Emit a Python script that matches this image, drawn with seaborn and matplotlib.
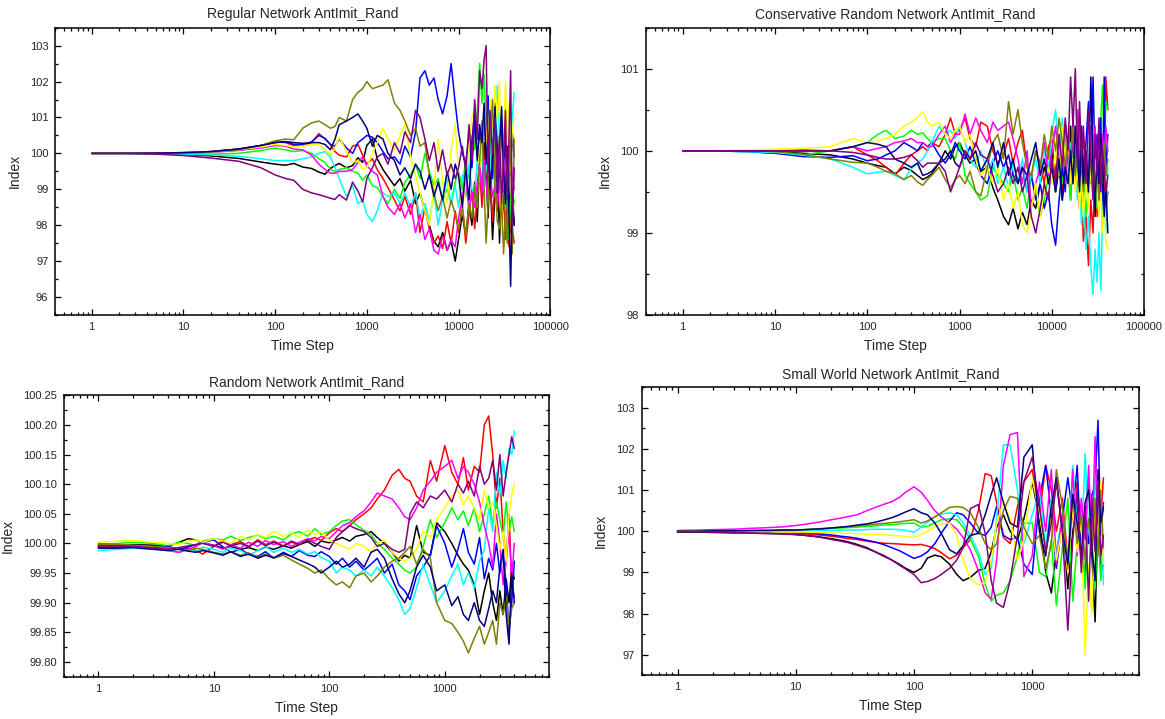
import pandas as pd
import matplotlib
matplotlib.use("Agg")
import matplotlib.pyplot as plt
from matplotlib.ticker import LogLocator, NullFormatter, MultipleLocator
import seaborn as sns

# Time steps at which the index of each run is recorded
STEPS_LONG = [1, 2, 5, 10, 20, 40, 70, 100, 130, 160,
              200, 250, 300, 350, 400, 450, 500, 600, 700, 800,
              900, 1000, 1150, 1300, 1500, 1700, 2000, 2300, 2600, 3000,
              3400, 3800, 4300, 4800, 5400, 6000, 6700, 7500, 8300, 9200,
              10000, 11000, 12000, 13000, 14000, 15000, 16000, 17000, 18000, 19000,
              20000, 21000, 22000, 23500, 25000, 26500, 28000, 29500, 31000, 32500,
              34000, 35500, 37000, 38500, 40500]

STEPS_SHORT = [1, 1.5, 2, 3, 4, 5, 6, 7, 8, 10,
               12, 14, 17, 20, 24, 28, 33, 40, 47, 55,
               65, 75, 85, 100, 115, 130, 150, 170, 200, 230,
               260, 300, 350, 400, 450, 500, 570, 650, 750, 850,
               1000, 1150, 1300, 1450, 1600, 1800, 2000, 2200, 2400, 2600,
               2800, 3000, 3200, 3400, 3600, 3800, 4000]

RUN_NAMES = ["black", "red", "green", "blue", "cyan",
             "magenta", "yellow", "olive", "navy", "purple"]
RUN_COLORS = ["#000000", "#FF0000", "#00FF00", "#0000FF", "#00FFFF",
              "#FF00FF", "#FFFF00", "#808000", "#000080", "#800080"]

# ---- Regular network ----
REG_BLACK = [100.00, 100.00, 99.99, 99.97, 99.93, 99.86, 99.76, 99.70, 99.67, 99.72,
             99.62, 99.58, 99.48, 99.42, 99.58, 99.66, 99.72, 99.60, 99.66, 99.88,
             99.75, 100.22, 100.40, 99.85, 99.55, 99.35, 99.10, 99.30, 98.95, 99.25,
             98.60, 98.90, 98.40, 98.00, 97.55, 97.40, 97.80, 97.30, 97.55, 97.00,
             97.60, 98.30, 97.70, 98.60, 98.00, 99.20, 98.10, 99.80, 98.70, 100.30,
             99.40, 98.20, 99.60, 97.60, 98.90, 100.20, 97.50, 99.30, 98.50, 100.80,
             98.30, 99.50, 97.80, 99.00, 98.00]
REG_RED = [100.00, 100.00, 100.01, 100.02, 100.05, 100.12, 100.22, 100.32, 100.30, 100.22,
           100.20, 100.30, 100.55, 100.40, 100.25, 100.05, 99.95, 99.90, 100.20, 100.25,
           99.95, 99.70, 99.85, 99.55, 99.30, 99.05, 98.70, 98.40, 98.80, 98.30,
           98.90, 97.80, 98.50, 97.90, 97.50, 97.70, 97.35, 98.10, 97.50, 98.40,
           97.80, 98.60, 97.50, 98.30, 99.00, 97.90, 98.80, 99.70, 98.50, 99.30,
           100.60, 98.90, 99.50, 98.10, 99.20, 98.40, 99.60, 98.00, 98.90, 97.60,
           98.50, 97.40, 98.20, 97.90, 97.50]
REG_GREEN = [100.00, 100.00, 100.00, 99.99, 99.98, 100.00, 100.08, 100.15, 100.10, 100.05,
             100.08, 100.00, 99.85, 99.75, 99.55, 99.50, 99.55, 99.60, 99.50, 99.45,
             99.25, 99.40, 99.10, 99.05, 98.80, 98.60, 99.00, 98.75, 99.20, 99.40,
             99.70, 99.30, 100.00, 99.50, 99.10, 99.30, 98.70, 99.00, 98.60, 99.20,
             99.50, 99.00, 99.90, 99.30, 100.50, 100.10, 101.20, 102.50, 101.40, 102.20,
             100.80, 101.60, 99.60, 100.40, 98.80, 99.90, 100.50, 99.20, 100.10, 98.40,
             99.60, 97.60, 98.80, 98.30, 98.70]
REG_BLUE = [100.00, 100.00, 100.01, 100.02, 100.05, 100.12, 100.22, 100.30, 100.32, 100.25,
            100.25, 100.32, 100.50, 100.42, 100.25, 100.20, 100.40, 100.15, 100.00, 100.30,
            100.40, 100.50, 100.45, 100.30, 100.05, 99.85, 99.90, 99.70, 100.20, 99.90,
            100.60, 102.10, 102.30, 101.90, 102.10, 101.50, 101.10, 101.60, 102.50, 101.40,
            100.60, 100.00, 99.70, 100.50, 99.60, 100.90, 99.90, 100.70, 99.80, 101.20,
            100.00, 101.60, 100.50, 99.30, 101.40, 100.20, 99.00, 100.80, 99.50, 101.00,
            99.80, 100.30, 99.40, 100.60, 99.90]
REG_CYAN = [100.00, 100.00, 99.99, 99.98, 99.96, 99.92, 99.85, 99.80, 99.80, 99.80,
            99.85, 99.90, 100.00, 100.05, 99.90, 99.60, 99.30, 98.80, 99.10, 98.60,
            98.70, 98.30, 98.10, 98.40, 98.90, 98.80, 98.90, 98.60, 98.90, 98.50,
            98.90, 98.20, 98.60, 98.10, 98.90, 98.00, 98.70, 99.30, 98.60, 99.10,
            98.50, 99.40, 98.80, 99.70, 99.00, 98.90, 99.80, 99.20, 100.30, 99.00,
            99.60, 100.60, 99.40, 101.00, 100.20, 101.90, 100.50, 98.30, 99.80, 99.20,
            100.50, 99.00, 100.30, 101.00, 101.70]
REG_MAGENTA = [100.00, 100.00, 100.00, 100.01, 100.03, 100.08, 100.15, 100.22, 100.20, 100.12,
               100.10, 99.95, 99.70, 99.55, 99.45, 99.45, 99.50, 99.50, 99.55, 99.75,
               99.90, 99.65, 99.50, 99.40, 98.80, 98.50, 98.30, 98.60, 98.20, 98.60,
               97.80, 98.30, 97.60, 97.90, 97.30, 97.20, 97.70, 97.30, 97.60, 97.40,
               98.20, 98.80, 99.30, 98.40, 98.90, 98.50, 99.20, 99.70, 98.90, 99.80,
               99.20, 98.60, 99.50, 98.80, 99.10, 98.50, 99.30, 98.60, 99.90, 99.10,
               99.80, 98.90, 100.10, 99.30, 99.00]
REG_YELLOW = [100.00, 100.00, 100.01, 100.02, 100.04, 100.10, 100.18, 100.25, 100.22, 100.18,
              100.20, 100.25, 100.25, 100.10, 99.95, 100.15, 100.45, 100.05, 99.75, 99.80,
              99.55, 99.60, 100.00, 100.30, 100.70, 100.40, 100.10, 100.50, 100.80, 99.90,
              99.40, 98.90, 98.40, 98.00, 99.00, 100.40, 99.20, 98.60, 100.10, 100.80,
              99.50, 98.30, 99.40, 100.20, 101.00, 101.20, 100.40, 99.60, 100.00, 101.30,
              100.60, 99.80, 101.50, 100.70, 101.90, 100.90, 102.00, 97.80, 100.40, 102.00,
              99.60, 101.40, 99.50, 100.60, 101.00]
REG_OLIVE = [100.00, 100.00, 100.00, 100.01, 100.04, 100.10, 100.22, 100.35, 100.40, 100.38,
             100.70, 100.85, 100.90, 100.80, 100.70, 100.75, 101.00, 100.90, 101.50, 101.70,
             101.80, 102.00, 101.80, 101.85, 101.90, 102.05, 101.40, 101.20, 100.90, 100.50,
             100.70, 100.20, 100.30, 99.40, 98.90, 98.40, 98.80, 98.20, 98.70, 98.30,
             97.90, 98.50, 97.70, 98.60, 98.20, 99.10, 98.50, 99.80, 100.90, 99.00,
             97.50, 98.60, 100.30, 101.50, 99.20, 98.10, 97.90, 98.60, 97.20, 98.40,
             97.50, 99.50, 100.40, 97.20, 100.40]
REG_NAVY = [100.00, 100.00, 100.01, 100.02, 100.05, 100.12, 100.22, 100.30, 100.33, 100.30,
            100.28, 100.30, 100.30, 100.25, 100.10, 100.40, 100.80, 100.90, 101.00, 101.10,
            100.90, 100.70, 100.20, 100.50, 100.40, 100.00, 99.80, 99.40, 99.60, 99.30,
            99.70, 99.50, 99.00, 99.40, 98.80, 99.20, 98.70, 99.50, 99.00, 99.70,
            99.40, 98.50, 99.60, 98.70, 100.30, 101.20, 99.80, 100.80, 100.30, 101.40,
            99.70, 100.50, 99.00, 99.80, 101.30, 98.90, 100.20, 101.30, 99.50, 98.60,
            100.20, 98.30, 96.30, 98.60, 98.00]
REG_PURPLE = [100.00, 100.00, 99.98, 99.94, 99.87, 99.78, 99.60, 99.40, 99.30, 99.25,
              99.00, 98.90, 98.85, 98.80, 98.75, 98.72, 98.85, 98.70, 99.20, 98.95,
              98.65, 99.30, 99.60, 99.90, 100.00, 99.70, 100.30, 100.00, 100.60, 100.30,
              101.20, 101.00, 100.40, 99.80, 100.30, 99.50, 100.10, 99.40, 99.70, 99.30,
              99.60, 100.20, 99.50, 100.80, 99.80, 101.50, 100.40, 102.30, 101.80, 102.60,
              103.00, 99.50, 101.20, 100.00, 101.00, 99.00, 100.50, 98.60, 99.90, 101.20,
              98.70, 100.40, 102.30, 98.00, 99.60]

# ---- Conservative random network ----
CON_BLACK = [100.00, 100.00, 100.00, 99.99, 99.97, 99.95, 99.90, 99.85, 99.82, 99.80,
             99.72, 99.80, 99.76, 99.70, 99.65, 99.68, 99.72, 99.85, 100.00, 99.90,
             100.05, 100.10, 99.95, 99.85, 99.90, 99.75, 99.80, 99.55, 99.40, 99.20,
             99.10, 99.30, 99.05, 99.25, 99.10, 99.40, 99.30, 99.60, 99.80, 99.60,
             100.00, 99.50, 99.80, 99.40, 99.90, 99.70, 100.30, 99.60, 100.10, 99.50,
             100.20, 99.70, 99.30, 99.90, 99.50, 100.10, 99.60, 99.20, 99.90, 99.40,
             99.70, 99.10, 99.60, 99.30, 99.50]
CON_RED = [100.00, 100.00, 100.00, 100.00, 100.01, 100.00, 100.05, 99.95, 99.88, 99.80,
           99.70, 99.85, 99.95, 100.00, 100.05, 100.00, 100.10, 100.05, 100.20, 100.40,
           100.20, 100.25, 100.40, 100.15, 100.05, 100.35, 100.30, 100.00, 99.85, 99.95,
           100.15, 99.85, 100.10, 100.25, 99.80, 99.65, 100.00, 99.85, 99.60, 100.05,
           100.15, 99.70, 100.20, 99.50, 100.30, 99.80, 99.40, 100.10, 99.70, 100.20,
           99.30, 99.60, 98.90, 99.20, 98.60, 99.40, 99.00, 99.80, 99.20, 100.30,
           99.50, 100.10, 99.40, 100.90, 100.50]
CON_GREEN = [100.00, 100.00, 99.99, 99.97, 99.95, 100.00, 100.05, 100.10, 100.20, 100.25,
             100.15, 100.18, 100.25, 100.20, 100.22, 100.15, 100.10, 100.15, 100.15, 100.00,
             99.90, 100.10, 99.70, 99.60, 99.50, 99.40, 99.45, 99.80, 99.70, 99.60,
             99.50, 99.75, 99.40, 99.55, 99.30, 99.70, 99.50, 99.20, 99.40, 99.70,
             99.90, 99.50, 100.10, 99.60, 100.20, 99.80, 99.40, 100.00, 99.60, 100.30,
             99.70, 99.40, 99.90, 99.20, 99.60, 100.10, 99.50, 100.20, 99.30, 99.80,
             100.40, 100.80, 99.90, 100.60, 100.50]
CON_BLUE = [100.00, 100.00, 99.99, 99.97, 99.93, 99.92, 99.94, 99.88, 99.90, 99.95,
            100.00, 100.10, 100.05, 100.00, 100.10, 100.05, 100.10, 99.95, 99.85, 99.95,
            100.10, 100.00, 99.90, 100.05, 99.85, 99.70, 99.60, 99.85, 100.00, 99.80,
            99.95, 99.70, 99.60, 99.80, 99.50, 99.70, 99.40, 99.60, 99.30, 99.50,
            99.10, 98.85, 99.40, 99.80, 99.50, 100.10, 99.70, 100.40, 99.90, 100.20,
            99.70, 100.30, 99.80, 100.10, 100.60, 99.60, 100.90, 99.80, 100.20, 99.50,
            100.40, 99.30, 100.90, 99.70, 100.20]
CON_CYAN = [100.00, 100.00, 99.99, 99.98, 99.95, 99.90, 99.80, 99.72, 99.74, 99.75,
            99.70, 99.65, 99.78, 99.85, 99.90, 100.00, 100.10, 100.30, 100.20, 100.25,
            100.15, 100.30, 100.10, 99.90, 99.80, 100.00, 99.75, 99.90, 99.60, 99.80,
            99.55, 99.85, 99.60, 99.90, 99.50, 99.70, 99.90, 99.60, 100.00, 99.80,
            100.20, 100.50, 99.90, 100.40, 100.00, 99.70, 100.10, 99.60, 99.90, 99.40,
            99.70, 99.10, 99.50, 98.80, 99.20, 98.60, 98.25, 98.80, 98.40, 99.00,
            98.30, 99.20, 99.50, 99.00, 99.80]
CON_MAGENTA = [100.00, 100.00, 100.00, 100.00, 100.00, 100.00, 100.05, 100.00, 100.03, 100.05,
               100.10, 100.12, 100.15, 100.10, 100.10, 100.05, 100.05, 100.20, 100.30, 100.10,
               100.20, 100.20, 100.45, 100.20, 100.40, 100.25, 100.10, 100.35, 100.25, 100.30,
               100.35, 100.15, 99.90, 99.60, 100.00, 99.30, 99.60, 99.80, 100.10, 99.70,
               100.00, 100.30, 99.80, 100.20, 99.60, 100.10, 99.70, 100.40, 99.90, 100.50,
               100.10, 99.60, 100.20, 99.80, 99.60, 100.30, 99.90, 100.30, 99.70, 100.10,
               99.60, 100.20, 99.80, 100.30, 100.00]
CON_YELLOW = [100.00, 100.00, 100.01, 100.02, 100.03, 100.05, 100.15, 100.10, 100.12, 100.15,
              100.20, 100.30, 100.35, 100.40, 100.48, 100.35, 100.30, 100.35, 100.20, 100.15,
              100.25, 100.30, 100.10, 100.20, 99.90, 99.70, 99.80, 99.60, 99.80, 99.40,
              99.60, 99.30, 99.50, 99.10, 99.00, 99.30, 99.60, 99.20, 99.50, 99.80,
              99.60, 100.00, 99.70, 100.30, 99.90, 100.30, 99.60, 99.90, 99.50, 99.80,
              99.30, 99.70, 99.20, 99.60, 99.30, 99.80, 99.40, 99.90, 99.50, 99.20,
              99.60, 99.00, 99.40, 98.90, 98.80]
CON_OLIVE = [100.00, 100.00, 100.00, 99.99, 99.96, 99.90, 99.86, 99.85, 99.80, 99.75,
             99.72, 99.65, 99.70, 99.62, 99.58, 99.65, 99.70, 99.80, 99.65, 99.55,
             99.65, 99.70, 99.60, 99.75, 99.50, 99.45, 99.80, 100.10, 100.20, 99.90,
             100.60, 100.20, 100.50, 100.10, 99.80, 99.70, 100.00, 99.80, 100.20, 99.90,
             100.30, 100.00, 100.40, 100.10, 99.80, 100.20, 99.90, 100.30, 99.70, 100.10,
             100.40, 99.80, 99.50, 100.00, 99.60, 99.90, 100.20, 99.50, 99.80, 99.40,
             99.90, 99.60, 100.10, 99.70, 99.90]
CON_NAVY = [100.00, 100.00, 100.00, 100.00, 100.00, 100.00, 100.05, 100.10, 100.08, 100.05,
            99.90, 99.85, 99.80, 99.85, 99.70, 99.72, 99.75, 99.85, 99.90, 100.00,
            99.85, 99.80, 100.00, 99.90, 100.00, 99.75, 99.90, 100.10, 99.80, 100.10,
            99.70, 99.90, 99.60, 99.80, 99.70, 99.90, 100.10, 99.70, 99.90, 99.60,
            99.80, 99.50, 99.90, 99.40, 99.80, 99.60, 100.00, 99.60, 100.30, 99.90,
            99.50, 100.20, 99.60, 100.00, 99.50, 100.90, 99.80, 99.30, 100.00, 99.60,
            100.20, 99.90, 99.20, 99.60, 99.00]
CON_PURPLE = [100.00, 100.00, 100.00, 100.00, 100.00, 100.00, 99.98, 99.95, 99.92, 99.90,
              99.90, 99.92, 99.95, 99.88, 99.80, 99.85, 99.85, 99.85, 99.75, 99.50,
              99.65, 99.80, 100.00, 99.90, 100.10, 99.95, 99.90, 99.70, 99.50, 99.60,
              99.80, 99.60, 99.80, 99.50, 99.70, 99.20, 99.00, 99.30, 99.60, 99.40,
              99.90, 99.60, 100.20, 99.80, 100.40, 100.00, 100.90, 100.30, 101.00, 99.80,
              100.60, 99.90, 100.30, 99.60, 100.50, 99.90, 99.40, 100.20, 99.70, 100.40,
              99.50, 100.00, 99.80, 99.50, 99.70]

# ---- Random network ----
RND_BLACK = [99.995, 99.996, 99.998, 99.997, 99.995, 100.002, 100.008, 100.006, 100.001, 99.997,
             99.992, 99.995, 99.990, 99.993, 99.988, 99.994, 99.990, 99.996, 99.992, 99.998,
             100.003, 99.995, 100.004, 100.001, 100.006, 100.010, 100.004, 100.012, 100.015, 100.020,
             100.010, 100.000, 99.985, 99.970, 99.980, 99.975, 100.030, 99.985, 99.980, 100.035,
             100.020, 100.000, 99.980, 99.965, 99.955, 99.930, 99.880, 99.920, 99.950, 99.900,
             99.870, 99.920, 99.880, 99.940, 99.900, 99.960, 99.940]
RND_RED = [99.995, 99.995, 99.994, 99.993, 99.992, 99.990, 99.992, 99.988, 99.982, 99.995,
           100.005, 99.998, 100.003, 99.995, 100.006, 99.998, 100.004, 99.996, 100.002, 99.998,
           100.006, 100.010, 100.005, 100.018, 100.025, 100.020, 100.030, 100.040, 100.050, 100.060,
           100.075, 100.090, 100.115, 100.125, 100.110, 100.105, 100.080, 100.070, 100.140, 100.105,
           100.165, 100.120, 100.100, 100.145, 100.090, 100.130, 100.120, 100.200, 100.215, 100.150,
           100.060, 100.110, 100.020, 99.970, 100.050, 99.930, 99.910]
RND_GREEN = [99.998, 100.000, 100.002, 100.000, 99.996, 100.002, 100.000, 99.996, 100.004, 100.008,
             100.006, 100.012, 100.005, 100.010, 100.014, 100.008, 100.012, 100.006, 100.016, 100.020,
             100.012, 100.025, 100.015, 100.020, 100.030, 100.038, 100.040, 100.032, 100.022, 100.015,
             100.000, 99.990, 99.975, 99.965, 99.955, 99.950, 99.960, 99.995, 100.040, 100.010,
             100.035, 100.060, 100.040, 100.055, 100.030, 100.060, 100.020, 100.050, 100.080, 100.030,
             100.070, 100.040, 100.010, 100.070, 100.020, 100.045, 100.020]
RND_BLUE = [99.993, 99.993, 99.994, 99.992, 99.995, 99.990, 99.994, 99.998, 100.002, 100.006,
            99.994, 99.985, 99.990, 99.982, 99.978, 99.986, 99.975, 99.985, 99.978, 99.988,
            99.980, 99.978, 99.986, 99.978, 99.965, 99.975, 99.960, 99.970, 99.955, 99.965,
            99.975, 99.950, 99.965, 99.930, 99.920, 99.905, 99.945, 99.960, 99.980, 100.030,
            100.000, 99.960, 99.990, 100.025, 99.985, 99.965, 100.010, 99.940, 99.975, 99.955,
            100.000, 99.950, 99.985, 99.930, 99.850, 99.900, 99.970]
RND_CYAN = [99.988, 99.990, 99.992, 99.990, 99.988, 99.985, 99.990, 99.986, 99.994, 99.990,
            99.985, 99.992, 99.988, 99.980, 99.988, 99.995, 99.985, 99.992, 99.985, 99.990,
            99.982, 99.986, 99.976, 99.970, 99.950, 99.960, 99.955, 99.945, 99.955, 99.945,
            99.960, 99.945, 99.925, 99.905, 99.880, 99.890, 99.925, 99.965, 99.930, 99.900,
            99.920, 99.945, 99.965, 99.930, 99.950, 99.925, 99.970, 99.990, 100.060, 100.020,
            100.120, 100.080, 100.140, 100.110, 100.160, 100.150, 100.190]
RND_MAGENTA = [100.000, 99.998, 99.996, 99.992, 99.988, 99.985, 99.990, 99.995, 100.002, 99.996,
               99.990, 99.998, 99.992, 100.002, 99.995, 100.005, 99.998, 100.003, 99.995, 100.002,
               100.008, 100.004, 100.012, 100.008, 100.020, 100.030, 100.035, 100.045, 100.055, 100.070,
               100.085, 100.080, 100.075, 100.060, 100.045, 100.040, 100.060, 100.090, 100.105, 100.120,
               100.130, 100.140, 100.110, 100.130, 100.120, 100.100, 100.070, 100.030, 100.000, 99.960,
               100.050, 100.000, 99.930, 99.970, 100.020, 99.940, 100.000]
RND_YELLOW = [100.002, 100.004, 100.005, 100.002, 100.000, 99.998, 100.004, 100.006, 100.002, 100.008,
              100.004, 100.000, 100.012, 100.006, 100.015, 100.010, 100.020, 100.012, 100.018, 100.010,
              100.022, 100.015, 100.020, 100.005, 100.000, 99.995, 99.990, 100.000, 99.995, 99.985,
              100.000, 100.005, 99.985, 99.975, 99.970, 99.975, 99.990, 100.020, 100.010, 100.040,
              100.060, 100.080, 100.090, 100.065, 100.080, 100.060, 100.040, 100.090, 100.060, 100.070,
              100.030, 99.990, 100.020, 99.970, 100.050, 100.080, 100.100]
RND_OLIVE = [99.998, 99.998, 99.997, 99.995, 99.993, 99.990, 99.988, 99.992, 99.990, 99.985,
             99.982, 99.986, 99.980, 99.984, 99.976, 99.982, 99.975, 99.980, 99.972, 99.965,
             99.958, 99.950, 99.955, 99.940, 99.930, 99.935, 99.925, 99.945, 99.950, 99.935,
             99.945, 99.960, 99.970, 99.975, 99.985, 99.995, 99.965, 99.990, 99.975, 99.900,
             99.870, 99.865, 99.850, 99.835, 99.815, 99.840, 99.860, 99.830, 99.850, 99.870,
             99.830, 99.900, 99.880, 99.910, 99.860, 99.890, 99.900]
RND_NAVY = [99.992, 99.992, 99.993, 99.990, 99.988, 99.990, 99.987, 99.985, 99.988, 99.984,
            99.980, 99.986, 99.978, 99.982, 99.975, 99.980, 99.976, 99.983, 99.978, 99.972,
            99.966, 99.960, 99.950, 99.960, 99.970, 99.960, 99.965, 99.975, 99.960, 99.985,
            99.990, 99.975, 99.940, 99.915, 99.900, 99.920, 99.960, 99.980, 99.960, 99.920,
            99.930, 99.895, 99.910, 99.880, 99.870, 99.900, 99.870, 99.860, 99.890, 99.920,
            99.900, 99.960, 99.990, 99.880, 99.830, 99.950, 99.900]
RND_PURPLE = [99.996, 99.996, 99.995, 99.992, 99.990, 99.993, 99.996, 99.998, 100.000, 99.995,
              100.002, 99.996, 100.000, 99.994, 100.004, 99.996, 100.002, 99.995, 100.004, 99.998,
              100.006, 100.000, 99.995, 99.990, 100.010, 100.020, 100.030, 100.025, 100.020, 100.010,
              99.995, 100.000, 99.990, 99.985, 99.990, 100.050, 100.070, 100.060, 100.080, 100.075,
              100.090, 100.070, 100.100, 100.085, 100.105, 100.080, 100.130, 100.100, 100.110, 100.140,
              100.090, 100.150, 100.080, 100.120, 100.150, 100.180, 100.160]

# ---- Small world network ----
SW_BLACK = [99.98, 99.98, 99.97, 99.96, 99.96, 99.95, 99.95, 99.94, 99.94, 99.92,
            99.90, 99.88, 99.85, 99.82, 99.78, 99.74, 99.68, 99.60, 99.50, 99.40,
            99.30, 99.20, 99.10, 99.00, 99.10, 99.35, 99.42, 99.38, 99.20, 98.95,
            98.80, 98.88, 99.05, 99.10, 99.50, 100.10, 100.40, 100.00, 99.80, 100.30,
            101.20, 100.30, 99.00, 98.50, 99.50, 100.30, 98.60, 100.00, 100.60, 99.50,
            98.90, 100.30, 99.40, 97.80, 100.40, 99.00, 99.20]
SW_RED = [100.00, 100.00, 99.99, 99.99, 99.98, 99.98, 99.97, 99.97, 99.96, 99.95,
          99.94, 99.92, 99.90, 99.88, 99.85, 99.82, 99.80, 99.76, 99.73, 99.71,
          99.70, 99.69, 99.68, 99.67, 99.68, 99.64, 99.58, 99.48, 99.33, 99.42,
          99.60, 99.80, 100.50, 101.40, 101.35, 100.70, 99.85, 99.70, 100.60, 101.20,
          101.50, 100.40, 101.60, 101.00, 100.00, 100.80, 99.30, 100.50, 101.20, 99.60,
          100.20, 101.30, 99.80, 100.70, 99.60, 100.30, 101.30]
SW_GREEN = [100.00, 100.00, 100.00, 100.01, 100.01, 100.02, 100.02, 100.02, 100.03, 100.03,
            100.04, 100.05, 100.06, 100.07, 100.08, 100.09, 100.10, 100.12, 100.13, 100.15,
            100.16, 100.18, 100.19, 100.20, 100.10, 100.12, 100.20, 100.28, 100.30, 100.28,
            100.10, 99.80, 99.40, 98.70, 98.30, 98.45, 98.50, 98.80, 99.40, 100.20,
            100.20, 99.00, 98.90, 99.80, 98.20, 99.60, 100.80, 98.30, 99.70, 100.60,
            98.60, 100.20, 99.90, 98.60, 100.10, 98.80, 99.90]
SW_BLUE = [100.00, 100.00, 100.00, 99.99, 99.99, 99.99, 99.98, 99.98, 99.98, 99.97,
           99.96, 99.95, 99.93, 99.91, 99.88, 99.86, 99.83, 99.78, 99.74, 99.68,
           99.60, 99.53, 99.45, 99.34, 99.40, 99.50, 99.70, 99.95, 100.25, 100.45,
           100.40, 100.20, 99.95, 99.90, 100.10, 100.60, 99.90, 99.80, 99.85, 99.20,
           98.95, 100.80, 101.60, 100.40, 99.10, 100.30, 101.30, 100.40, 101.60, 99.40,
           100.60, 99.70, 100.90, 101.10, 102.70, 99.90, 100.70]
SW_CYAN = [100.00, 100.00, 100.00, 100.00, 100.00, 100.00, 100.01, 100.01, 100.01, 100.01,
           100.01, 100.02, 100.02, 100.02, 100.03, 100.03, 100.03, 100.04, 100.05, 100.05,
           100.05, 100.04, 100.02, 99.98, 100.10, 100.22, 100.35, 100.42, 100.45, 100.40,
           100.20, 99.90, 99.50, 98.95, 99.10, 100.30, 102.10, 102.10, 101.00, 99.70,
           100.40, 101.00, 99.60, 100.80, 99.40, 100.50, 99.10, 101.60, 100.20, 99.40,
           101.90, 100.00, 99.60, 101.40, 100.20, 101.20, 98.70]
SW_MAGENTA = [100.02, 100.03, 100.04, 100.05, 100.07, 100.08, 100.09, 100.10, 100.11, 100.14,
              100.17, 100.20, 100.24, 100.28, 100.32, 100.36, 100.40, 100.50, 100.58, 100.65,
              100.72, 100.82, 100.95, 101.08, 100.95, 100.75, 100.50, 100.35, 100.20, 100.05,
              99.85, 99.55, 99.05, 98.50, 98.35, 99.30, 101.60, 102.35, 102.40, 98.90,
              99.40, 101.20, 100.00, 101.50, 99.20, 100.40, 99.00, 101.50, 99.40, 100.80,
              99.80, 101.60, 99.60, 102.30, 99.50, 101.00, 100.50]
SW_YELLOW = [100.00, 100.00, 100.00, 99.99, 99.99, 99.99, 99.99, 99.98, 99.98, 99.98,
             99.98, 99.97, 99.97, 99.96, 99.95, 99.95, 99.94, 99.93, 99.92, 99.91,
             99.90, 99.89, 99.87, 99.85, 99.92, 100.00, 100.12, 100.18, 100.20, 99.90,
             99.30, 98.85, 98.70, 98.75, 99.30, 100.20, 100.70, 100.30, 99.30, 99.80,
             101.30, 100.40, 99.50, 100.30, 99.30, 100.10, 99.00, 100.60, 99.50, 100.30,
             97.00, 99.20, 98.00, 100.50, 99.80, 101.20, 99.20]
SW_OLIVE = [100.00, 100.00, 100.00, 100.01, 100.01, 100.02, 100.02, 100.02, 100.03, 100.03,
            100.04, 100.05, 100.07, 100.08, 100.10, 100.11, 100.13, 100.15, 100.17, 100.19,
            100.21, 100.23, 100.25, 100.28, 100.20, 100.25, 100.35, 100.45, 100.58, 100.60,
            100.58, 100.45, 100.10, 99.70, 99.55, 99.70, 100.50, 100.85, 100.80, 100.10,
            99.70, 99.90, 99.10, 99.70, 101.50, 100.60, 99.10, 100.90, 99.70, 100.40,
            99.30, 100.30, 99.50, 100.80, 99.40, 101.00, 99.60]
SW_NAVY = [100.00, 100.00, 100.01, 100.01, 100.02, 100.02, 100.02, 100.03, 100.03, 100.03,
           100.04, 100.05, 100.06, 100.08, 100.10, 100.12, 100.15, 100.18, 100.22, 100.27,
           100.33, 100.40, 100.47, 100.55, 100.45, 100.40, 100.20, 99.95, 99.55, 99.45,
           99.65, 99.90, 99.95, 100.40, 100.90, 101.30, 100.70, 100.20, 100.10, 101.80,
           102.10, 100.00, 99.40, 100.60, 101.30, 100.00, 99.20, 100.90, 100.20, 99.40,
           100.70, 101.00, 99.60, 98.80, 101.50, 100.20, 100.60]
SW_PURPLE = [99.99, 99.99, 99.98, 99.97, 99.96, 99.95, 99.94, 99.94, 99.93, 99.92,
             99.90, 99.88, 99.84, 99.80, 99.76, 99.72, 99.66, 99.58, 99.50, 99.42,
             99.30, 99.18, 99.08, 98.95, 98.75, 98.78, 98.85, 98.95, 99.10, 99.30,
             99.60, 100.55, 100.65, 99.95, 98.80, 98.25, 98.15, 98.80, 99.90, 101.20,
             101.80, 100.60, 99.50, 100.20, 101.20, 100.00, 97.60, 99.80, 101.00, 99.00,
             100.50, 98.30, 100.80, 99.50, 101.20, 99.40, 99.90]

PANELS = [
    dict(title="Regular Network AntImit_Rand", steps=STEPS_LONG,
         runs=[REG_BLACK, REG_RED, REG_GREEN, REG_BLUE, REG_CYAN,
               REG_MAGENTA, REG_YELLOW, REG_OLIVE, REG_NAVY, REG_PURPLE],
         rect=[0.0474, 0.5619, 0.4249, 0.3996], xlim=(0.4, 100000),
         xticks=[1, 10, 100, 1000, 10000, 100000],
         ylim=(95.5, 103.5), yticks=[96, 97, 98, 99, 100, 101, 102, 103],
         yfmt="{:.0f}", yminor=0.5),
    dict(title="Conservative Random Network AntImit_Rand", steps=STEPS_LONG,
         runs=[CON_BLACK, CON_RED, CON_GREEN, CON_BLUE, CON_CYAN,
               CON_MAGENTA, CON_YELLOW, CON_OLIVE, CON_NAVY, CON_PURPLE],
         rect=[0.5545, 0.5619, 0.4275, 0.3996], xlim=(0.4, 100000),
         xticks=[1, 10, 100, 1000, 10000, 100000],
         ylim=(98.0, 101.5), yticks=[98, 99, 100, 101],
         yfmt="{:.0f}", yminor=0.5),
    dict(title="Random Network AntImit_Rand", steps=STEPS_SHORT,
         runs=[RND_BLACK, RND_RED, RND_GREEN, RND_BLUE, RND_CYAN,
               RND_MAGENTA, RND_YELLOW, RND_OLIVE, RND_NAVY, RND_PURPLE],
         rect=[0.0546, 0.0588, 0.4167, 0.3914], xlim=(0.5, 8000),
         xticks=[1, 10, 100, 1000],
         ylim=(99.775, 100.25),
         yticks=[99.80, 99.85, 99.90, 99.95, 100.00, 100.05, 100.10, 100.15, 100.20, 100.25],
         yfmt="{:.2f}", yminor=0.025),
    dict(title="Small World Network AntImit_Rand", steps=STEPS_SHORT,
         runs=[SW_BLACK, SW_RED, SW_GREEN, SW_BLUE, SW_CYAN,
               SW_MAGENTA, SW_YELLOW, SW_OLIVE, SW_NAVY, SW_PURPLE],
         rect=[0.5510, 0.0608, 0.4267, 0.4006], xlim=(0.5, 8000),
         xticks=[1, 10, 100, 1000],
         ylim=(96.5, 103.5), yticks=[97, 98, 99, 100, 101, 102, 103],
         yfmt="{:.0f}", yminor=0.5),
]


def long_table(steps, runs):
    frames = [pd.DataFrame({"step": steps, "value": values, "run": name})
              for name, values in zip(RUN_NAMES, runs)]
    return pd.concat(frames, ignore_index=True)


sns.set_theme(style="ticks")
plt.rcParams["font.family"] = ["Liberation Sans", "DejaVu Sans"]
plt.rcParams["axes.linewidth"] = 1.1

fig = plt.figure(figsize=(11.65, 7.19), dpi=100)
fig.patch.set_facecolor("white")

for panel in PANELS:
    ax = fig.add_axes(panel["rect"])
    table = long_table(panel["steps"], panel["runs"])
    sns.lineplot(data=table, x="step", y="value", hue="run",
                 hue_order=RUN_NAMES, palette=RUN_COLORS,
                 estimator=None, sort=False, legend=False,
                 linewidth=1.1, ax=ax)
    ax.set_xscale("log")
    ax.set_xlim(*panel["xlim"])
    ax.set_ylim(*panel["ylim"])
    ax.set_xticks(panel["xticks"])
    ax.set_xticklabels([str(t) for t in panel["xticks"]])
    ax.xaxis.set_minor_locator(LogLocator(base=10, subs=range(2, 10), numticks=20))
    ax.xaxis.set_minor_formatter(NullFormatter())
    ax.set_yticks(panel["yticks"])
    ax.set_yticklabels([panel["yfmt"].format(t) for t in panel["yticks"]])
    ax.yaxis.set_minor_locator(MultipleLocator(panel["yminor"]))
    ax.tick_params(which="both", direction="in", top=True, right=True,
                   width=0.9, color="black", labelsize=8, pad=5)
    ax.tick_params(which="major", length=4.5)
    ax.tick_params(which="minor", length=2.5)
    for spine in ax.spines.values():
        spine.set_visible(True)
        spine.set_color("black")
    ax.set_facecolor("white")
    ax.grid(False)
    ax.set_title(panel["title"], fontsize=10, pad=7)
    ax.set_xlabel("Time Step", fontsize=10, labelpad=5)
    ax.set_ylabel("Index", fontsize=10, labelpad=6)

fig.savefig("out.png", dpi=100, facecolor="white")
